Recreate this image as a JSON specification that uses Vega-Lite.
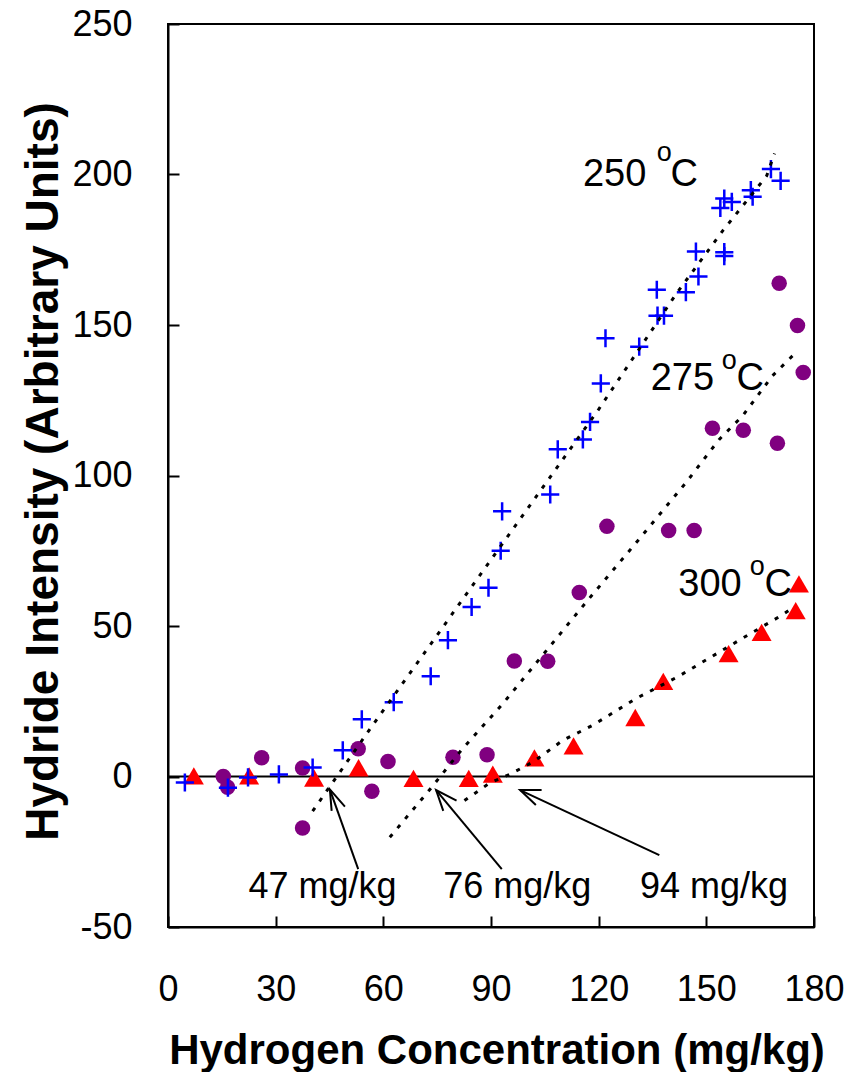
{
  "$schema": "https://vega.github.io/schema/vega-lite/v6.json",
  "width": 646,
  "height": 903,
  "autosize": {"type": "none"},
  "padding": {"left": 168, "top": 24, "right": 45, "bottom": 145},
  "background": "white",
  "config": {
    "view": {"stroke": "black", "strokeWidth": 2},
    "font": "Liberation Sans",
    "axis": {
      "grid": false,
      "domainColor": "black",
      "domainWidth": 2,
      "tickColor": "black",
      "tickWidth": 2,
      "tickSize": -11,
      "labelFont": "Liberation Sans",
      "labelFontSize": 36,
      "labelColor": "black",
      "labelFlush": false,
      "labelOverlap": false,
      "labelExpr": "datum.value < 0 ? '-' + abs(datum.value) : '' + datum.value",
      "titleFont": "Liberation Sans",
      "titleFontWeight": "bold",
      "titleColor": "black"
    }
  },
  "datasets": {
    "zero": [{"x": 0, "y": 0}, {"x": 180, "y": 0}],
    "pts": [
      {"s": "250", "x": 4.7, "y": -2}, {"s": "250", "x": 16.7, "y": -3.7}, {"s": "250", "x": 22.3, "y": -0.3}, {"s": "250", "x": 30.9, "y": 0.7}, {"s": "250", "x": 40.3, "y": 3}, {"s": "250", "x": 48.7, "y": 8.7}, {"s": "250", "x": 54, "y": 19}, {"s": "250", "x": 62.9, "y": 24.7}, {"s": "250", "x": 73.2, "y": 33.3}, {"s": "250", "x": 78, "y": 45.3}, {"s": "250", "x": 84.6, "y": 56.3}, {"s": "250", "x": 89.3, "y": 62.7}, {"s": "250", "x": 92.7, "y": 75}, {"s": "250", "x": 93.1, "y": 88.1}, {"s": "250", "x": 106.5, "y": 93.7}, {"s": "250", "x": 108.6, "y": 108.7}, {"s": "250", "x": 115.6, "y": 112}, {"s": "250", "x": 117.6, "y": 117.8}, {"s": "250", "x": 120.6, "y": 130.6}, {"s": "250", "x": 121.9, "y": 145.6}, {"s": "250", "x": 131.3, "y": 142.8}, {"s": "250", "x": 136.4, "y": 153.1}, {"s": "250", "x": 138.2, "y": 153.1}, {"s": "250", "x": 136.2, "y": 161.7}, {"s": "250", "x": 144.3, "y": 160.9}, {"s": "250", "x": 147.8, "y": 166.1}, {"s": "250", "x": 147.1, "y": 174.4}, {"s": "250", "x": 155, "y": 174.2}, {"s": "250", "x": 155, "y": 172.9}, {"s": "250", "x": 153.9, "y": 188.9}, {"s": "250", "x": 155, "y": 192}, {"s": "250", "x": 157.1, "y": 190.9}, {"s": "250", "x": 162.4, "y": 194.8}, {"s": "250", "x": 162.9, "y": 192.6}, {"s": "250", "x": 168, "y": 201.8}, {"s": "250", "x": 170.7, "y": 197.9},
      {"s": "275", "x": 15.4, "y": 0}, {"s": "275", "x": 16.6, "y": -3.6}, {"s": "275", "x": 26.1, "y": 6.2}, {"s": "275", "x": 37.5, "y": 2.8}, {"s": "275", "x": 37.5, "y": -17.1}, {"s": "275", "x": 53, "y": 9.2}, {"s": "275", "x": 56.8, "y": -4.9}, {"s": "275", "x": 61.3, "y": 5}, {"s": "275", "x": 79.4, "y": 6.4}, {"s": "275", "x": 88.9, "y": 7.2}, {"s": "275", "x": 96.5, "y": 38.4}, {"s": "275", "x": 105.8, "y": 38.3}, {"s": "275", "x": 114.6, "y": 61.1}, {"s": "275", "x": 122.3, "y": 83.1}, {"s": "275", "x": 139.5, "y": 81.7}, {"s": "275", "x": 146.6, "y": 81.7}, {"s": "275", "x": 151.7, "y": 115.7}, {"s": "275", "x": 160.3, "y": 115}, {"s": "275", "x": 169.8, "y": 110.7}, {"s": "275", "x": 170.3, "y": 163.9}, {"s": "275", "x": 175.4, "y": 149.8}, {"s": "275", "x": 177, "y": 134.2},
      {"s": "300", "x": 7.2, "y": 0.2}, {"s": "300", "x": 22.6, "y": 0.2}, {"s": "300", "x": 40.7, "y": -0.5}, {"s": "300", "x": 53.1, "y": 2.9}, {"s": "300", "x": 68.4, "y": -0.6}, {"s": "300", "x": 83.8, "y": -0.6}, {"s": "300", "x": 90.5, "y": 0.8}, {"s": "300", "x": 102.1, "y": 6.2}, {"s": "300", "x": 113, "y": 10.2}, {"s": "300", "x": 130.2, "y": 19.6}, {"s": "300", "x": 138, "y": 31.6}, {"s": "300", "x": 156.2, "y": 40.8}, {"s": "300", "x": 165.4, "y": 47.9}, {"s": "300", "x": 174.9, "y": 55.1}, {"s": "300", "x": 175.8, "y": 64}
    ],
    "trend": [
      {"s": "250", "x": 40.3, "y": -11.5}, {"s": "250", "x": 57, "y": 17}, {"s": "250", "x": 93, "y": 77}, {"s": "250", "x": 120, "y": 122}, {"s": "250", "x": 141.7, "y": 160.5}, {"s": "250", "x": 154.7, "y": 181.5}, {"s": "250", "x": 166.8, "y": 199.5}, {"s": "250", "x": 169, "y": 207},
      {"s": "275", "x": 61.8, "y": -20.2}, {"s": "275", "x": 72.9, "y": -4.4}, {"s": "275", "x": 81.7, "y": 8.7}, {"s": "275", "x": 93.3, "y": 24.2}, {"s": "275", "x": 117.4, "y": 59.2}, {"s": "275", "x": 130.4, "y": 77.6}, {"s": "275", "x": 144.3, "y": 97.6}, {"s": "275", "x": 153.6, "y": 112}, {"s": "275", "x": 160.1, "y": 119.8}, {"s": "275", "x": 168.4, "y": 133.1}, {"s": "275", "x": 175.4, "y": 141.4},
      {"s": "300", "x": 82.6, "y": -8}, {"s": "300", "x": 89.6, "y": -2.2}, {"s": "300", "x": 95.2, "y": 0.7}, {"s": "300", "x": 101.7, "y": 4.8}, {"s": "300", "x": 110, "y": 12}, {"s": "300", "x": 118.3, "y": 17}, {"s": "300", "x": 130.4, "y": 25.9}, {"s": "300", "x": 142, "y": 33.1}, {"s": "300", "x": 149.9, "y": 38.7}, {"s": "300", "x": 159.2, "y": 45.3}, {"s": "300", "x": 171.2, "y": 53.7}, {"s": "300", "x": 174.5, "y": 56.4}
    ],
    "arrows": [
      {"id": "a1s", "o": 1, "x": 53.0, "y": -30.8}, {"id": "a1s", "o": 2, "x": 45.1, "y": -4.3},
      {"id": "a1h", "o": 1, "x": 45.6, "y": -11.4}, {"id": "a1h", "o": 2, "x": 45.1, "y": -4.3}, {"id": "a1h", "o": 3, "x": 49.3, "y": -10.0},
      {"id": "a2s", "o": 1, "x": 93.0, "y": -30.8}, {"id": "a2s", "o": 2, "x": 74.7, "y": -4.5},
      {"id": "a2h", "o": 1, "x": 76.7, "y": -11.4}, {"id": "a2h", "o": 2, "x": 74.7, "y": -4.5}, {"id": "a2h", "o": 3, "x": 80.4, "y": -8.0},
      {"id": "a3s", "o": 1, "x": 136.9, "y": -26.1}, {"id": "a3s", "o": 2, "x": 98.1, "y": -4.5},
      {"id": "a3h", "o": 1, "x": 102.5, "y": -9.5}, {"id": "a3h", "o": 2, "x": 98.1, "y": -4.5}, {"id": "a3h", "o": 3, "x": 104.1, "y": -4.5}
    ],
    "labels": [
      {"k": "main", "t": "250", "x": 115.6, "y": 196.2}, {"k": "main", "t": "C", "x": 140.0, "y": 196.2},
      {"k": "main", "t": "275", "x": 134.5, "y": 128.4}, {"k": "main", "t": "C", "x": 158.4, "y": 128.4},
      {"k": "main", "t": "300", "x": 142.2, "y": 60.0}, {"k": "main", "t": "C", "x": 166.2, "y": 60.0},
      {"k": "sup", "t": "o", "x": 136.2, "y": 204.5}, {"k": "sup", "t": "o", "x": 154.3, "y": 135.3}, {"k": "sup", "t": "o", "x": 162.1, "y": 66.9},
      {"k": "ann", "t": "47 mg/kg", "x": 22.4, "y": -40.5}, {"k": "ann", "t": "76 mg/kg", "x": 76.7, "y": -40.5}, {"k": "ann", "t": "94 mg/kg", "x": 131.5, "y": -40.5}
    ]
  },
  "encoding": {
    "x": {
      "field": "x", "type": "quantitative",
      "scale": {"domain": [0, 180], "nice": false, "zero": false},
      "axis": {
        "values": [0, 30, 60, 90, 120, 150, 180],
        "title": "Hydrogen Concentration (mg/kg)",
        "titleFontSize": 42,
        "titleX": 328.5,
        "titleY": 136,
        "titleAlign": "center",
        "titleBaseline": "alphabetic",
        "labelPadding": 56
      }
    },
    "y": {
      "field": "y", "type": "quantitative",
      "scale": {"domain": [-50, 250], "nice": false, "zero": false},
      "axis": {
        "values": [-50, 0, 50, 100, 150, 200, 250],
        "title": "Hydride Intensity (Arbitrary Units)",
        "titleFontSize": 46,
        "titleAngle": -90,
        "titleX": -146.4,
        "titleY": 447,
        "titleAlign": "center",
        "titleBaseline": "top",
        "labelPadding": 47
      }
    }
  },
  "layer": [
    {
      "data": {"name": "zero"},
      "mark": {"type": "line", "color": "black", "strokeWidth": 2},
      "encoding": {}
    },
    {
      "data": {"name": "pts"},
      "transform": [{"filter": "datum.s === '300'"}],
      "mark": {"type": "point", "shape": "triangle-up", "filled": true, "color": "#FF0000", "opacity": 1, "size": 400}
    },
    {
      "data": {"name": "pts"},
      "transform": [{"filter": "datum.s === '275'"}],
      "mark": {"type": "point", "shape": "circle", "filled": true, "color": "#800080", "opacity": 1, "size": 240}
    },
    {
      "data": {"name": "pts"},
      "transform": [{"filter": "datum.s === '250'"}],
      "mark": {"type": "point", "shape": "M-1,0L1,0M0,-1L0,1", "filled": false, "stroke": "#0000FF", "strokeWidth": 2.5, "opacity": 1, "size": 330}
    },
    {
      "data": {"name": "trend"},
      "mark": {"type": "line", "color": "black", "strokeWidth": 3, "strokeDash": [4, 8]},
      "encoding": {"detail": {"field": "s"}}
    },
    {
      "data": {"name": "arrows"},
      "mark": {"type": "line", "color": "black", "strokeWidth": 2},
      "encoding": {"detail": {"field": "id"}, "order": {"field": "o", "type": "quantitative"}}
    },
    {
      "data": {"name": "labels"},
      "transform": [{"filter": "datum.k === 'main'"}],
      "mark": {"type": "text", "align": "left", "baseline": "alphabetic", "fontSize": 38, "color": "black", "font": "Liberation Sans"},
      "encoding": {"text": {"field": "t"}}
    },
    {
      "data": {"name": "labels"},
      "transform": [{"filter": "datum.k === 'sup'"}],
      "mark": {"type": "text", "align": "left", "baseline": "alphabetic", "fontSize": 27, "color": "black", "font": "Liberation Sans"},
      "encoding": {"text": {"field": "t"}}
    },
    {
      "data": {"name": "labels"},
      "transform": [{"filter": "datum.k === 'ann'"}],
      "mark": {"type": "text", "align": "left", "baseline": "alphabetic", "fontSize": 36, "color": "black", "font": "Liberation Sans"},
      "encoding": {"text": {"field": "t"}}
    }
  ]
}
